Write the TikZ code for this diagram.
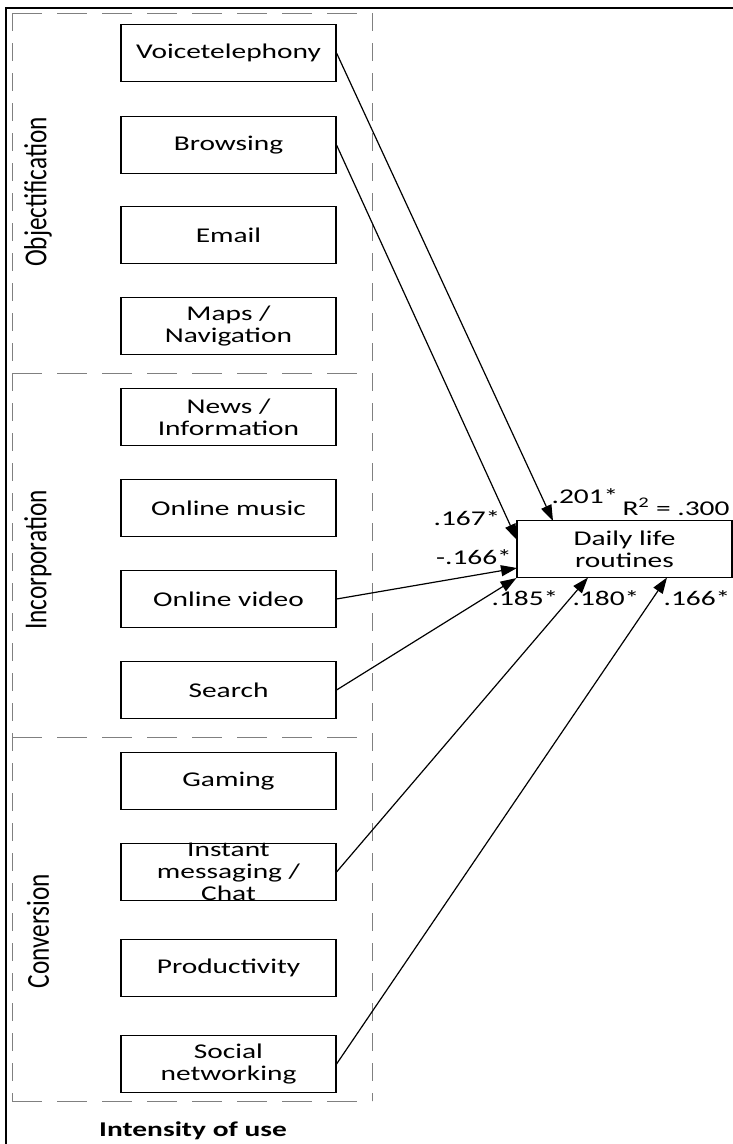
\documentclass[tikz,border=0pt]{standalone}
\usepackage{fontspec}
\setmainfont{Carlito}
\newfontfamily\boxfont[FakeStretch=1.4]{Carlito}
\newfontfamily\sidefont[FakeStretch=0.79]{Carlito}
\usetikzlibrary{arrows.meta}
\tikzset{
 var/.style={draw, line width=1.1pt, minimum width=215pt, minimum height=57pt, inner sep=0pt, align=center, font=\boxfont\fontsize{21}{22}\selectfont},
 hgrp/.style={draw=gray, dash pattern=on 30pt off 15pt, line width=1pt},
 vgrp/.style={draw=gray, dash pattern=on 18pt off 12pt, line width=1pt},
 pathar/.style={line width=1.2pt, -{Triangle[length=16pt,width=11pt]}},
 coef/.style={font=\boxfont\fontsize{21}{22}\selectfont, inner sep=0pt},
 side/.style={rotate=90, font=\sidefont\fontsize{32}{33}\selectfont, inner sep=0pt}
}
\begin{document}
\begin{tikzpicture}[x=1pt,y=-1pt]
\useasboundingbox (0,0) rectangle (733,1144);
% outer frame
\draw[line width=2pt] (6,1144) -- (6,8) -- (733,8);
% group frame
\coordinate (g1) at (12,13);
\coordinate (g2) at (372,13);
\coordinate (g3) at (12,1101);
\coordinate (g4) at (372,1101);
\coordinate (d1l) at (12,373);
\coordinate (d1r) at (372,373);
\coordinate (d2l) at (12,737);
\coordinate (d2r) at (372,737);
\draw[hgrp] (g1) -- (g2);
\draw[hgrp] (d1l) -- (d1r);
\draw[hgrp] (d2l) -- (d2r);
\draw[hgrp] (g3) -- (g4);
\draw[vgrp] (g1) -- (g3);
\draw[vgrp] (g2) -- (g4);
% side labels
\node[side] (obj) at (38,192) {Objectification};
\node[side] (inc) at (38,560) {Incorporation};
\node[side] (con) at (38,931) {Conversion};
% variables
\node[var] (voice) at (228.5,53) {Voicetelephony};
\node[var] (brow) at (228.5,145) {Browsing};
\node[var] (email) at (228.5,235) {Email};
\node[var] (maps) at (228.5,326) {Maps /\\Navigation};
\node[var] (news) at (228.5,417) {News /\\Information};
\node[var] (music) at (228.5,508) {Online music};
\node[var] (video) at (228.5,599) {Online video};
\node[var] (search) at (228.5,690) {Search};
\node[var] (gaming) at (228.5,781) {Gaming};
\node[var] (im) at (228.5,872) {Instant\\messaging /\\Chat};
\node[var] (prod) at (228.5,968) {Productivity};
\node[var] (social) at (228.5,1064) {Social\\networking};
% outcome
\node[var] (dlr) at (624.5,549) {Daily life\\routines};
% paths
\draw[pathar] (voice.east) -- (553,521);
\draw[pathar] (brow.east) -- (517,540);
\draw[pathar] (video.east) -- (517,568);
\draw[pathar] (search.east) -- (dlr.south west);
\draw[pathar] (im.east) -- (588,577.5);
\draw[pathar] (social.east) -- (667,577.5);
% coefficients
\node[coef] (c1) at (585,496) {.201*};
\node[coef] (r2) at (676,507) {R\textsuperscript{2} = .300};
\node[coef] (c2) at (467,518) {.167*};
\node[coef] (c3) at (474,557) {-.166*};
\node[coef] (c4) at (525,598) {.185*};
\node[coef] (c5) at (606,598) {.180*};
\node[coef] (c6) at (697,598) {.166*};
% footer
\node[font=\boxfont\bfseries\fontsize{21}{22}\selectfont, inner sep=0pt] (iou) at (193,1131) {Intensity of use};
\end{tikzpicture}
\end{document}
